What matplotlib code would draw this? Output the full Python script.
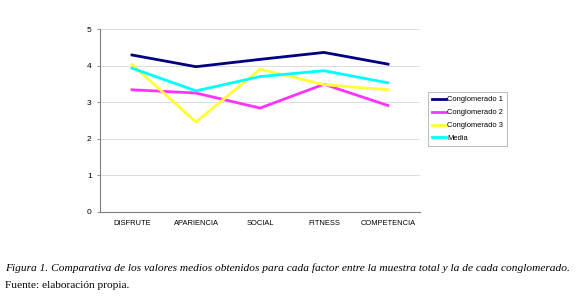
import matplotlib
matplotlib.use("Agg")
import matplotlib.pyplot as plt

factores = ["DISFRUTE", "APARIENCIA", "SOCIAL", "FITNESS", "COMPETENCIA"]
conglomerado1 = [4.29, 3.97, 4.17, 4.36, 4.04]
conglomerado2 = [3.34, 3.25, 2.84, 3.49, 2.91]
conglomerado3 = [4.03, 2.46, 3.90, 3.48, 3.34]
media = [3.93, 3.31, 3.70, 3.86, 3.53]

series = [
    ("Conglomerado 1", conglomerado1, "#000080"),
    ("Conglomerado 2", conglomerado2, "#ff33ff"),
    ("Conglomerado 3", conglomerado3, "#ffff33"),
    ("Media", media, "#00ffff"),
]

plt.rcParams["font.family"] = ["Liberation Sans", "DejaVu Sans"]

fig = plt.figure(figsize=(5.8, 3.02), dpi=100)
ax = fig.add_axes([100 / 580, 1 - 212 / 302, 320 / 580, 183 / 302])

x = range(len(factores))
for name, vals, col in series:
    ax.plot(x, vals, color=col, lw=2, label=name)

ax.set_xlim(-0.5, 4.5)
ax.set_ylim(0, 5)
ax.set_yticks([0, 1, 2, 3, 4, 5])
ax.set_xticks(list(x))
ax.set_xticklabels(factores)
ax.tick_params(labelsize=6, length=2, width=0.6, color="#808080", pad=4)
ax.tick_params(axis="x", labelsize=5.4, length=0, pad=6)
ax.yaxis.grid(True, color="#d8d8d8", lw=0.6)
ax.set_axisbelow(True)
for s in ["top", "right"]:
    ax.spines[s].set_visible(False)
for s in ["left", "bottom"]:
    ax.spines[s].set_color("#808080")
    ax.spines[s].set_linewidth(0.8)

leg = fig.legend(loc="upper left", bbox_to_anchor=(428 / 580, 1 - 92 / 302),
                 fontsize=5.4, frameon=True, fancybox=False, handlelength=1.9,
                 handletextpad=0.1, labelspacing=0.75, borderpad=0.55,
                 borderaxespad=0)
leg.get_frame().set_edgecolor("#a0a0a0")
leg.get_frame().set_linewidth(0.6)

fig.text(5 / 580, 1 - 268 / 302,
         "Figura 1. Comparativa de los valores medios obtenidos para cada factor entre la muestra total y la de cada conglomerado.",
         family=["Liberation Serif", "DejaVu Serif"], style="italic", fontsize=8.2, va="center")
fig.text(5 / 580, 1 - 285 / 302, "Fuente: elaboración propia.",
         family=["Liberation Serif", "DejaVu Serif"], fontsize=8.2, va="center")

fig.savefig("out.png", dpi=100)
